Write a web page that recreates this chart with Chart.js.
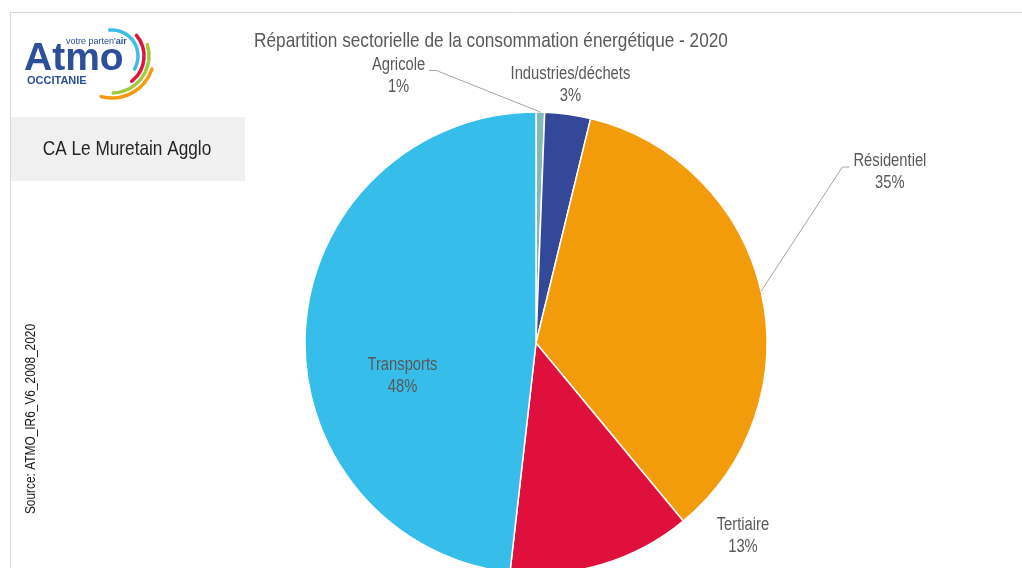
<!DOCTYPE html>
<html>
<head>
<meta charset="utf-8">
<script src="https://cdn.jsdelivr.net/npm/chart.js@4"></script>
<style>
  html, body { margin: 0; padding: 0; background: #fff; overflow: hidden; }
  #wrap { position: relative; width: 1022px; height: 568px; }
</style>
</head>
<body>
<div id="wrap"><canvas id="pie-chart"></canvas></div>
<script>
// data
var sectors = ["Agricole", "Industries/déchets", "Résidentiel", "Tertiaire", "Transports"];
var shares = [0.6, 3.2, 35.2, 12.8, 48.2];
var sectorColors = ["#85b7bf", "#34489a", "#f39c0b", "#e0103c", "#36bdea"];
var chartTitle = "Répartition sectorielle de la consommation énergétique - 2020";
var territory = "CA Le Muretain Agglo";
var sourceText = "Source: ATMO_IR6_V6_2008_2020";

// label spots, in units of the pie radius from its centre
var labelSpots = [[-0.595, -1.156], [0.149, -1.117], [1.532, -0.738], [0.896, 0.835], [-0.578, 0.143]];
var withLeader = [true, false, true, false, false];

var FONT = '"Liberation Sans", Arial, sans-serif';
var SQUEEZE = 0.82; // narrow look

// draws text squeezed horizontally
function narrowText(c, text, x, y, size, color, align) {
  c.save();
  c.translate(x, y);
  c.scale(SQUEEZE, 1);
  c.font = size + "px " + FONT;
  c.fillStyle = color;
  c.textAlign = align || "center";
  c.textBaseline = "middle";
  c.fillText(text, 0, 0);
  c.restore();
}

function narrowWidth(c, text, size) {
  c.save();
  c.font = size + "px " + FONT;
  var w = c.measureText(text).width * SQUEEZE;
  c.restore();
  return w;
}

//frame, logo, title, box and source text
var decorPlugin = {
  id: "decor",
  beforeDraw: function (chart) {
    var c = chart.ctx;
    c.save();
    c.fillStyle = "#fff";
    c.fillRect(0, 0, chart.width, chart.height);
    c.strokeStyle = "#d9d9d9";
    c.lineWidth = 1;
    c.beginPath();
    c.moveTo(1022, 12.5); c.lineTo(10.5, 12.5); c.lineTo(10.5, 568);
    c.stroke();

    // territory box
    c.fillStyle = "#f0f0f0";
    c.fillRect(11, 117, 234, 64);
    narrowText(c, territory, 127, 149, 21, "#262626");

    // title
    narrowText(c, chartTitle, 491, 41, 21, "#595959");

    // source, vertical
    c.save();
    c.translate(31, 419);
    c.rotate(-Math.PI / 2);
    narrowText(c, sourceText, 0, 0, 14.5, "#1a1a1a");
    c.restore();

    // logo
    c.textAlign = "left";
    c.textBaseline = "alphabetic";
    c.fillStyle = "#2c4e9b";
    c.font = "bold 39px Arial, sans-serif";
    c.fillText("Atmo", 24, 70);
    c.font = "bold 11px Arial, sans-serif";
    c.fillText("OCCITANIE", 27, 84);
    c.font = "9px Arial, sans-serif";
    c.fillText("votre parten'", 66, 44);
    var w = c.measureText("votre parten'").width;
    c.font = "bold 9px Arial, sans-serif";
    c.fillText("air", 66 + w, 44);
    var rings = [
      ["#3bbde8", 26, -95, 30],
      ["#e2123e", 32, -40, 52],
      ["#a4c93b", 37, -18, 88],
      ["#f39c12", 42, 18, 105]
    ];
    c.lineWidth = 3.5;
    c.lineCap = "round";
    rings.forEach(function (a) {
      c.strokeStyle = a[0];
      c.beginPath();
      c.arc(112, 56, a[1], a[2] * Math.PI / 180, a[3] * Math.PI / 180);
      c.stroke();
    });
    c.restore();
  }
};

//sector labels with leader lines
var labelPlugin = {
  id: "sectorLabels",
  afterDatasetsDraw: function (chart) {
    var c = chart.ctx;
    var arcs = chart.getDatasetMeta(0).data;
    arcs.forEach(function (arc, i) {
      var R = arc.outerRadius;
      var lx = arc.x + labelSpots[i][0] * R;
      var ly = arc.y + labelSpots[i][1] * R;
      var name = sectors[i];
      var pct = Math.round(shares[i]) + "%";
      if (withLeader[i]) {
        var mid = (arc.startAngle + arc.endAngle) / 2;
        var px = arc.x + Math.cos(mid) * R;
        var py = arc.y + Math.sin(mid) * R;
        var half = narrowWidth(c, name, 18) / 2;
        var side = px > lx ? 1 : -1;
        var ex = lx + side * (half + 4);
        var ey = ly - 5.5;
        c.save();
        c.strokeStyle = "#a6a6a6";
        c.lineWidth = 1;
        c.beginPath();
        c.moveTo(px, py);
        c.lineTo(ex + side * 7, ey);
        c.lineTo(ex, ey);
        c.stroke();
        c.restore();
      }
      narrowText(c, name, lx, ly - 11, 18, "#595959");
      narrowText(c, pct, lx, ly + 11, 18, "#595959");
    });
  }
};

var ctx = document.getElementById("pie-chart");
var chart1 = new Chart(ctx, {
  type: "pie",
  data: {
    labels: sectors,
    datasets: [{
      data: shares,
      backgroundColor: sectorColors,
      borderColor: "#ffffff",
      borderWidth: 1.5,
      radius: 231,
      clip: false
    }]
  },
  options: {
    responsive: true,
    maintainAspectRatio: false,
    animation: false,
    layout: { padding: { top: 130, bottom: 12, left: 300, right: 250 } },
    plugins: {
      legend: { display: false },
      tooltip: { enabled: false },
      title: { display: false }
    }
  },
  plugins: [decorPlugin, labelPlugin]
});
</script>
</body>
</html>
